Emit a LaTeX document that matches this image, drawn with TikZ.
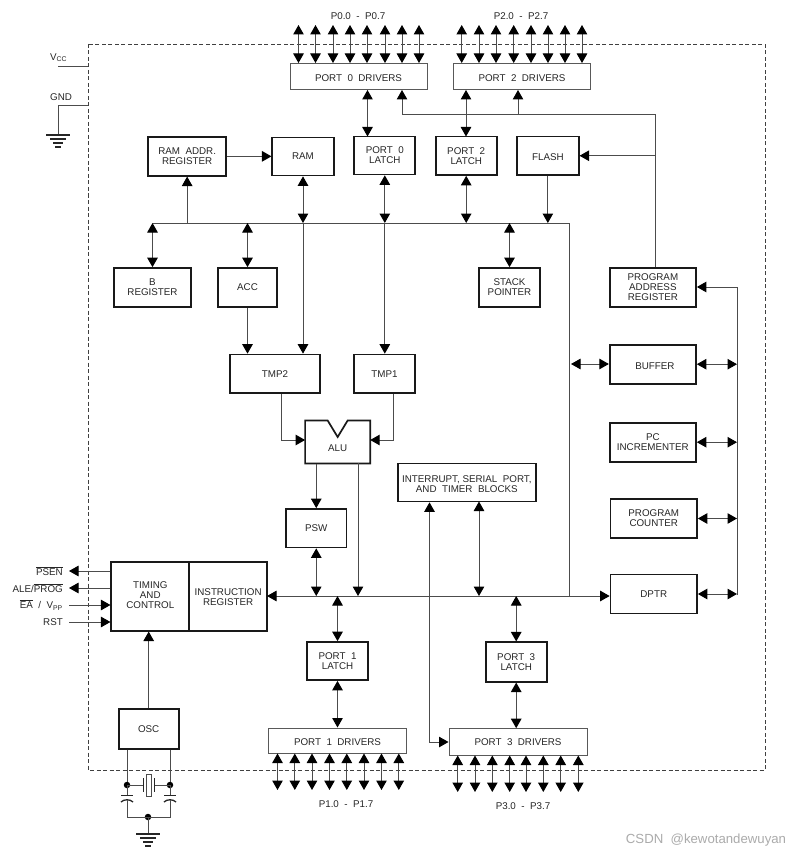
\documentclass[tikz,border=0pt]{standalone}
\usepackage{fontspec}
\setmainfont{Liberation Sans}
\usetikzlibrary{arrows.meta,calc}
\newcommand{\blk}[7][blk]{\node[#1,minimum width={(#5-#3)*1pt},minimum height={(#6-#4)*1pt}] (#2) at ({(#3+#5)/2},{(#4+#6)/2}) {#7};}
\newcommand{\ovl}[1]{$\overline{\hbox{#1}}$}
\newcommand{\low}[2]{\raisebox{-#1}[0pt][0pt]{#2}}
\newcommand{\pins}[5]{\foreach \k/\px in {#5} {\coordinate (#1\k) at (\px,#3); \draw[dbl] (#1\k) -- (#1\k |- #2.#4);}}
\newcommand{\groundsym}[1]{\foreach \dy/\hw in {0/12,4/8,8/5,12/3} {\draw[gnd] ($(#1)+(-\hw,\dy)$) -- ($(#1)+(\hw,\dy)$);}}
\tikzset{
  x=1pt,y=-1pt,
  >={Triangle[length=9.5pt,width=10.5pt,color=black]},
  blk/.style={draw=black!90,line width=1.7pt,inner sep=0pt,align=center,font=\fontsize{9.8}{10}\selectfont,text=black!85},
  drv/.style={blk,draw=black!65,line width=1pt},
  lnk/.style={draw=black!70,line width=1pt},
  one/.style={lnk,->},
  dbl/.style={lnk,<->},
  gnd/.style={draw=black!85,line width=1.3pt},
  lbl/.style={inner sep=0pt,font=\fontsize{9.8}{10}\selectfont,text=black!85},
  dot/.style={circle,fill=black,inner sep=0pt,minimum size=6.5pt},
  boundary/.style={draw=black!75,line width=0.9pt,dash pattern=on 4pt off 2.5pt},
  wmark/.style={inner sep=0pt,font=\fontsize{13.2}{13}\selectfont,text=black!33}
}
\begin{document}
\begin{tikzpicture}
\path[use as bounding box,fill=white] (0,0) rectangle (796,853);
\draw[boundary] (88,44) rectangle (765,770);
% blocks
\blk[drv]{pzd}{290}{63.5}{427}{89.5}{\low{5pt}{PORT\ \ 0\ \ DRIVERS}}
\blk[drv]{ptd}{453.5}{63.5}{590.5}{89.5}{\low{5pt}{PORT\ \ 2\ \ DRIVERS}}
\blk{raddr}{148.3}{137}{226}{175.7}{RAM\ \ ADDR.\\REGISTER}
\blk{ram}{272.3}{137.5}{333.7}{175.5}{RAM}
\blk{pzl}{354.3}{136.5}{415.3}{174.5}{PORT\ \ 0\\LATCH}
\blk{ptl}{435.7}{136.5}{496.7}{175}{PORT\ \ 2\\LATCH}
\blk{flash}{517}{136.5}{578.7}{175}{\low{5pt}{FLASH}}
\blk{breg}{114}{268}{191}{307}{B\\REGISTER}
\blk{acc}{218}{268}{277}{307}{ACC}
\blk{sp}{479}{268}{540}{307}{STACK\\POINTER}
\blk{par}{609.7}{267.7}{696}{306.7}{PROGRAM\\ADDRESS\\REGISTER}
\blk{buf}{609.7}{344.7}{696}{383.7}{\hspace*{4pt}\low{5pt}{BUFFER}}
\blk{pci}{609.7}{422.7}{696}{461.7}{PC\\INCREMENTER}
\blk{pgc}{610.5}{499}{697}{538}{PROGRAM\\COUNTER}
\blk{dptr}{610.5}{574.5}{697}{613.5}{DPTR}
\blk{tmpb}{230}{354.5}{320}{393}{TMP2}
\blk{tmpa}{354}{354.5}{415}{393}{TMP1}
\blk[lbl,draw=none]{alu}{305.3}{420.7}{370}{463.3}{\low{9.5pt}{ALU}}
\draw[draw=black!90,line width=1.7pt,line join=miter]
  (alu.north west) -- ($(alu.north)+(-10,0)$) -- ($(alu.north)+(0,16.5)$) -- ($(alu.north)+(10,0)$)
  -- (alu.north east) -- (alu.south east) -- (alu.south west) -- cycle;
\blk{irq}{397.7}{463.5}{536}{501.5}{\rule{0pt}{10pt}INTERRUPT,\ SERIAL\ \ PORT,\\AND\ \ TIMER\ \ BLOCKS}
\blk{psw}{286}{509}{346.5}{547.5}{PSW}
\blk{tim}{111.3}{562.3}{189.3}{630.7}{TIMING\\AND\\CONTROL\rule[-2pt]{0pt}{0pt}}
\blk{ir}{189.3}{562.3}{267}{630.7}{\rule{0pt}{9pt}INSTRUCTION\\REGISTER}
\blk{pol}{307}{642}{368}{680}{PORT\ \ 1\\LATCH}
\blk{pdl}{485.7}{642.3}{546.7}{681.7}{PORT\ \ 3\\LATCH}
\blk[drv]{pod}{268.5}{728}{406.5}{753}{\low{4.5pt}{PORT\ \ 1\ \ DRIVERS}}
\blk[drv]{pdd}{449}{728.7}{587}{755}{\low{4pt}{PORT\ \ 3\ \ DRIVERS}}
\blk{osc}{118.7}{709.3}{178.7}{748.7}{OSC}
% pins
\pins{a}{pzd}{25}{north}{1/298.5,2/315.5,3/333,4/350,5/367,6/385,7/402,8/419}
\pins{b}{ptd}{25}{north}{1/461.7,2/479,3/496,4/513.7,5/531,6/548,7/565,8/582}
\pins{c}{pod}{790}{south}{1/277.5,2/294.8,3/312,4/329.5,5/346.8,6/364,7/381.5,8/398.8}
\pins{d}{pdd}{792}{south}{1/457.7,2/475,3/492.3,4/509.7,5/526,6/543.3,7/560.7,8/578.3}
\node[lbl] (pzt) at (358,16) {P0.0\ \ -\ \ P0.7};
\node[lbl] (ptt) at (521,16) {P2.0\ \ -\ \ P2.7};
\node[lbl] (pot) at (346,804) {P1.0\ \ -\ \ P1.7};
\node[lbl] (pdt) at (523,806) {P3.0\ \ -\ \ P3.7};
% supply
\node[lbl,anchor=west] (vcc) at (50,57.5) {V\textsubscript{CC}};
\node[lbl,anchor=west] (gndt) at (50,97) {GND};
\coordinate (vccl) at (58,67);
\coordinate (vccr) at (88,67);
\coordinate (gndr) at (88,106);
\coordinate (gnda) at (58,135);
\draw[lnk] (vccl) -- (vccr);
\draw[lnk] (gndr) -| (gnda);
\groundsym{gnda}
% upper bus
\coordinate (busl) at (153,223);
\coordinate (busc) at (569,223);
\coordinate (busd) at (569,596);
\draw[lnk] (busl) -- (busc) -- (busd);
\draw[dbl] (breg.north) -- (breg.north |- busl);
\draw[dbl] (acc.north) -- (acc.north |- busl);
\draw[one] (busl -| raddr.south) -- (raddr.south);
\draw[one] (raddr.east) -- (raddr.east -| ram.west);
\coordinate (ramx) at (303,223);
\coordinate (pzx) at (384.8,223);
\draw[dbl] (ram.south) -- (ramx);
\draw[dbl] (pzl.south) -- (pzx);
\draw[dbl] (ptl.south) -- (ptl.south |- busl);
\draw[one] (flash.south) -- (flash.south |- busl);
\draw[dbl] (sp.north) -- (sp.north |- busl);
\draw[one] (ramx) -- (ramx |- tmpb.north);
\draw[one] (pzx) -- (pzx |- tmpa.north);
\draw[one] (acc.south) -- (acc.south |- tmpb.north);
% top connections
\coordinate (pzin) at (402,115);
\coordinate (ptin) at (518,115);
\coordinate (parx) at (655,115);
\coordinate (pzlx) at (367.5,136.5);
\coordinate (ptlx) at (466,136.5);
\draw[dbl] (pzlx |- pzd.south) -- (pzlx);
\draw[dbl] (ptlx |- ptd.south) -- (ptlx);
\draw[lnk,->] (par.north -| parx) -- (parx) -- (pzin) -- (pzin |- pzd.south);
\draw[one] (ptin) -- (ptin |- ptd.south);
\draw[one] (flash.east -| parx) -- (flash.east);
% right column
\coordinate (rbt) at (737,287);
\coordinate (rbb) at (737,595);
\draw[lnk,->] (rbb) -- (rbt) -- (rbt -| par.east);
\draw[dbl] (buf.east) -- (buf.east -| rbt);
\draw[dbl] (pci.east) -- (pci.east -| rbt);
\draw[dbl] (pgc.east) -- (pgc.east -| rbt);
\draw[dbl] (dptr.east) -- (dptr.east -| rbt);
\coordinate (bufl) at (571,364);
\draw[dbl] (bufl) -- (bufl -| buf.west);
% ALU
\coordinate (tbx) at (281,440);
\coordinate (tax) at (393,440);
\draw[lnk,->] (tbx |- tmpb.south) -- (tbx) -- (tbx -| alu.west);
\draw[lnk,->] (tax |- tmpa.south) -- (tax) -- (tax -| alu.east);
\coordinate (lowl) at (267,596);
\draw[dbl] (lowl) -- (lowl -| dptr.west);
\draw[one] (psw.north |- alu.south) -- (psw.north);
\draw[dbl] (psw.south) -- (psw.south |- lowl);
\coordinate (aluo) at (358,463.3);
\draw[one] (aluo) -- (aluo |- lowl);
\coordinate (irqa) at (429.5,742);
\draw[lnk,<->] (irqa |- irq.south) -- (irqa) -- (irqa -| pdd.west);
\coordinate (irqb) at (479,501.5);
\draw[dbl] (irqb) -- (irqb |- lowl);
\draw[dbl] (pol.north) -- (pol.north |- lowl);
\draw[dbl] (pdl.north) -- (pdl.north |- lowl);
\draw[dbl] (pol.south) -- (pol.south |- pod.north);
\draw[dbl] (pdl.south) -- (pdl.south |- pdd.north);
% timing
\node[lbl,anchor=east] (psen) at (63,571) {\ovl{PSEN}};
\node[lbl,anchor=east] (ale) at (63,588) {ALE/\ovl{PROG}};
\node[lbl,anchor=east] (ea) at (63,605) {\ovl{EA}\ \ /\ \ V\textsubscript{PP}};
\node[lbl,anchor=east] (rst) at (63,622) {RST};
\coordinate (psenr) at (69,571);
\coordinate (aler) at (69,588);
\coordinate (ear) at (69,605);
\coordinate (rstr) at (69,622);
\draw[one] (psenr -| tim.west) -- (psenr);
\draw[one] (aler -| tim.west) -- (aler);
\draw[one] (ear) -- (ear -| tim.west);
\draw[one] (rstr) -- (rstr -| tim.west);
\draw[one] (osc.north) -- (osc.north |- tim.south);
% oscillator
\coordinate (xl) at (127,785);
\coordinate (xr) at (170,785);
\coordinate (gj) at (148,817);
\coordinate (ga) at (148,834);
\draw[lnk] (xl |- osc.south) -- (xl);
\draw[lnk] (xr |- osc.south) -- (xr);
\node[dot] (xld) at (xl) {};
\node[dot] (xrd) at (xr) {};
\node[dot] (gjd) at (gj) {};
\draw[lnk] (xl) -- ++(16,0);
\draw[lnk] (xr) -- ++(-15.5,0);
\draw[gnd] (143.5,778) -- (143.5,792);
\draw[gnd] (154.5,778) -- (154.5,792);
\draw[draw=black!70,line width=0.9pt] (146,774) rectangle (151,796);
\draw[lnk] (xl) -- (127,795);
\draw[lnk] (xr) -- (170,795);
\draw[gnd] (121,795.5) -- (133,795.5);
\draw[gnd] (164,795.5) -- (176,795.5);
\draw[gnd] (121,802) .. controls (124,799) and (130,799) .. (133,802);
\draw[gnd] (164,802) .. controls (167,799) and (173,799) .. (176,802);
\draw[lnk] (127,800) -- (127,817) -- (170,817) -- (170,800);
\draw[lnk] (gj) -- (ga);
\groundsym{ga}
\node[wmark] (wm) at (706,840) {CSDN\ \ @kewotandewuyan};
\end{tikzpicture}
\end{document}
